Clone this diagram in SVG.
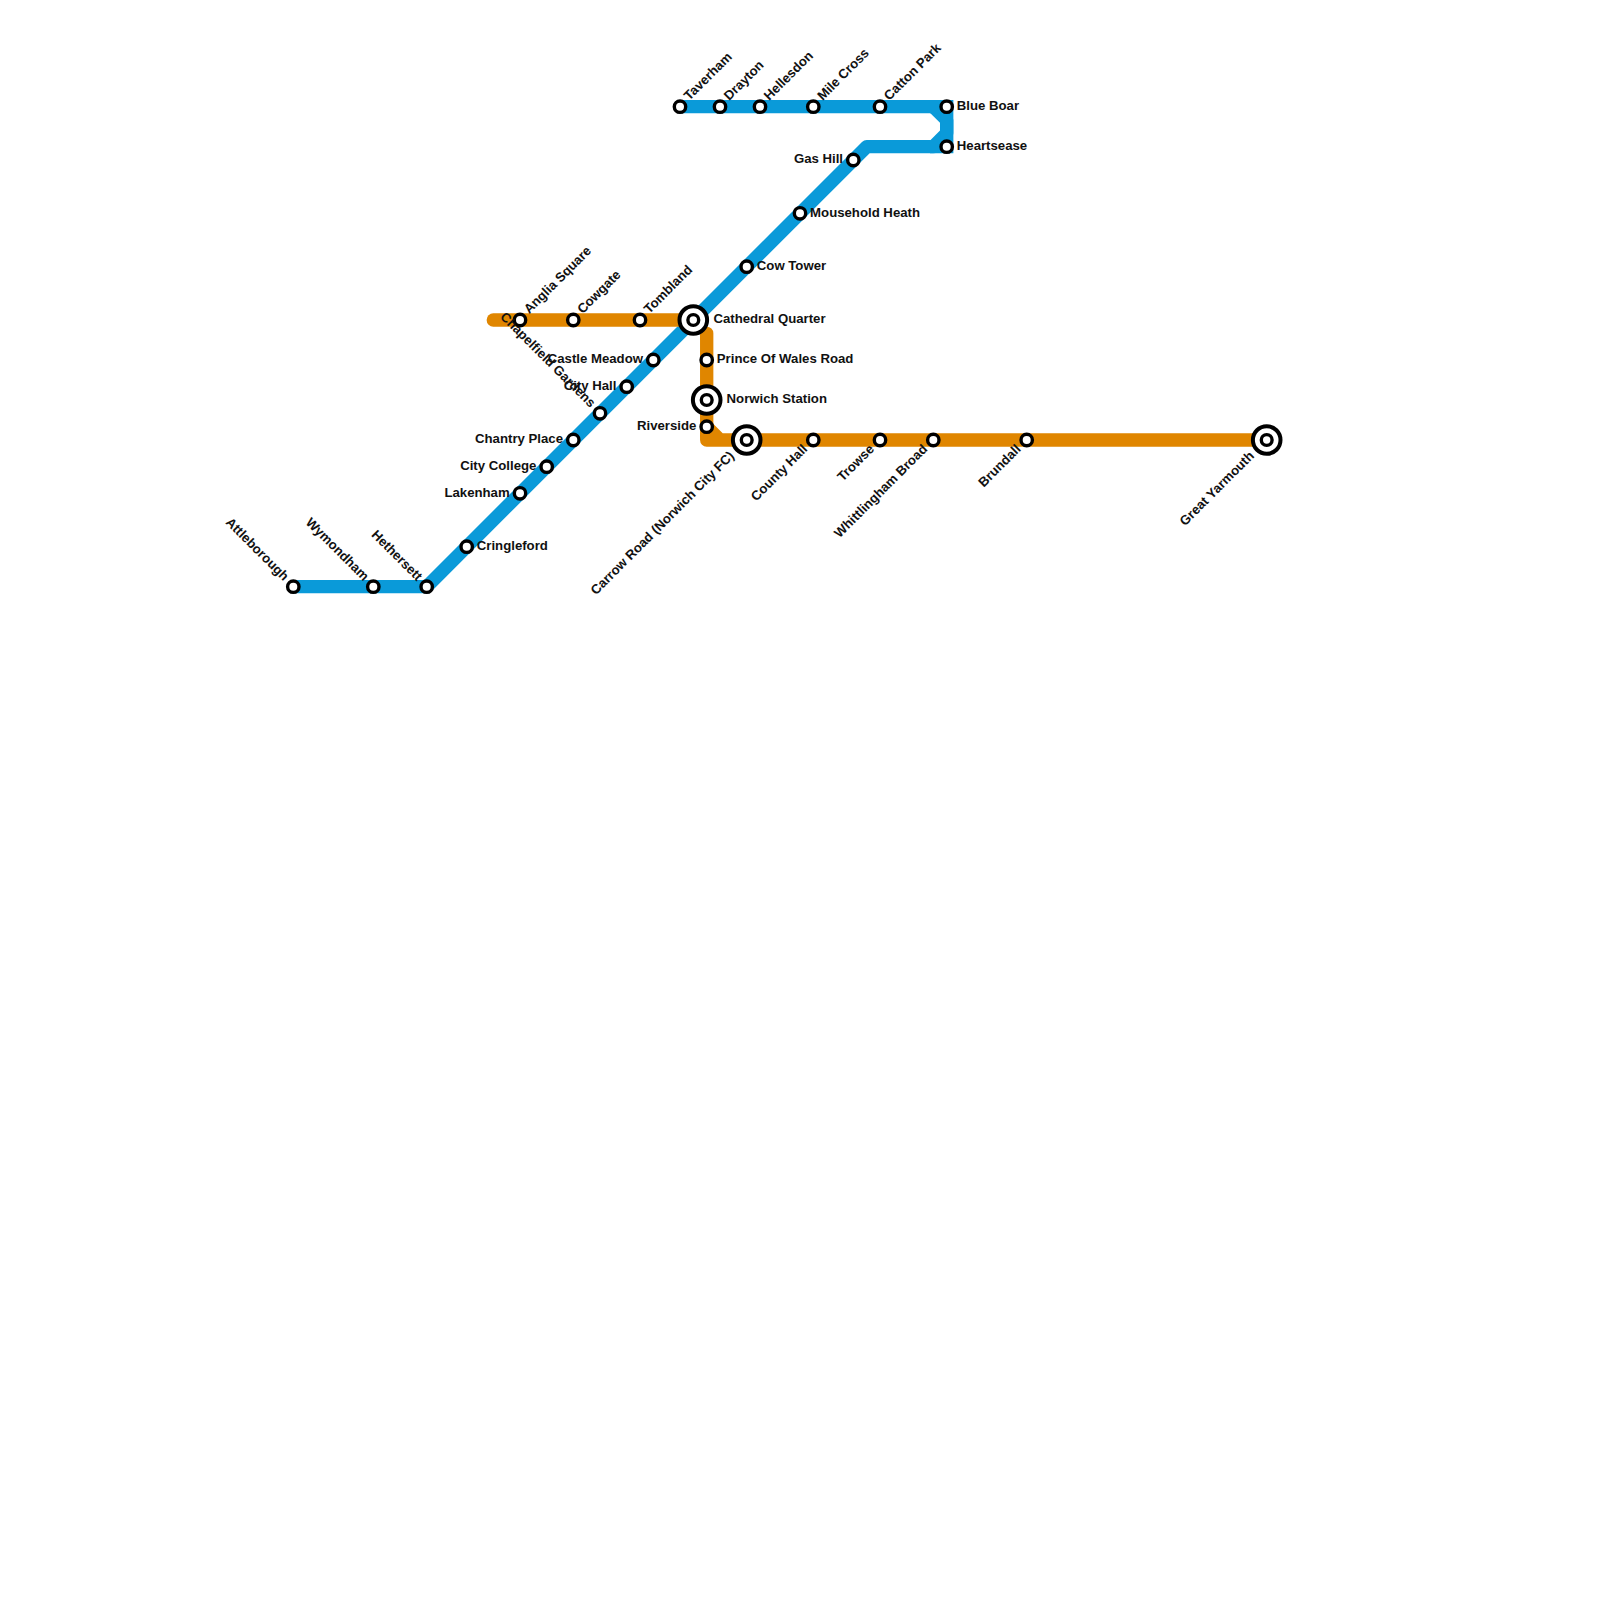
<svg xmlns="http://www.w3.org/2000/svg" width="1600" height="1600" viewBox="0 0 1600 1600">
<style>
.line{fill:none;stroke-width:13.33;stroke-linecap:round;stroke-linejoin:round}
.blue{stroke:#0a9ad9}
.orange{stroke:#e08600}
.st{fill:#fff;stroke:#000;stroke-width:3.4}
.ring{stroke-width:4}
text{font-family:"Liberation Sans",Arial,sans-serif;font-size:13.2px;font-weight:700;fill:#111}
.e{text-anchor:end}
</style>
<rect width="1600" height="1600" fill="#fff"/>
<g id="connectors">
<path class="line blue" d="M293.3 586.7H426.7L866.7 146.7H933.3L946.7 133.3V120L933.3 106.7H680"/>
<path class="line blue" style="stroke-linejoin:miter;stroke-linecap:butt" d="M930 106.7H946.7V146.7H930"/>
<path class="line orange" d="M493.3 320H693.3"/>
<path class="line orange" style="stroke-linecap:butt" d="M700 333.3H706.7V426.7"/>
<path class="line orange" d="M720 440L706.7 426.7V440H1266.7"/>
</g>
<g id="n-taverham"><circle class="st" cx="680" cy="106.7" r="5.7"/><text transform="translate(686.5 98.2) rotate(-45)" y="4">Taverham</text></g>
<g id="n-drayton"><circle class="st" cx="720" cy="106.7" r="5.7"/><text transform="translate(726.5 98.2) rotate(-45)" y="4">Drayton</text></g>
<g id="n-hellesdon"><circle class="st" cx="760" cy="106.7" r="5.7"/><text transform="translate(766.5 98.2) rotate(-45)" y="4">Hellesdon</text></g>
<g id="n-mile-cross"><circle class="st" cx="813.3" cy="106.7" r="5.7"/><text transform="translate(819.8 98.2) rotate(-45)" y="4">Mile Cross</text></g>
<g id="n-catton-park"><circle class="st" cx="880" cy="106.7" r="5.7"/><text transform="translate(886.5 98.2) rotate(-45)" y="4">Catton Park</text></g>
<g id="n-blue-boar"><circle class="st" cx="946.7" cy="106.7" r="5.7"/><text x="956.8" y="110">Blue Boar</text></g>
<g id="n-heartsease"><circle class="st" cx="946.7" cy="146.7" r="5.7"/><text x="956.8" y="150">Heartsease</text></g>
<g id="n-gas-hill"><circle class="st" cx="853.3" cy="160" r="5.7"/><text class="e" x="843" y="163.3">Gas Hill</text></g>
<g id="n-mousehold-heath"><circle class="st" cx="800" cy="213.3" r="5.7"/><text x="810.1" y="216.6">Mousehold Heath</text></g>
<g id="n-cow-tower"><circle class="st" cx="746.7" cy="266.7" r="5.7"/><text x="756.8" y="270">Cow Tower</text></g>
<g id="n-cathedral-quarter"><circle class="st ring" cx="693.3" cy="320" r="13.8"/><circle class="st" cx="693.3" cy="320" r="5.4"/><text x="713.4" y="323.3">Cathedral Quarter</text></g>
<g id="n-anglia-square"><circle class="st" cx="520" cy="320" r="5.7"/><text transform="translate(526.5 311.5) rotate(-45)" y="4">Anglia Square</text></g>
<g id="n-cowgate"><circle class="st" cx="573.3" cy="320" r="5.7"/><text transform="translate(579.8 311.5) rotate(-45)" y="4">Cowgate</text></g>
<g id="n-tombland"><circle class="st" cx="640" cy="320" r="5.7"/><text transform="translate(646.5 311.5) rotate(-45)" y="4">Tombland</text></g>
<g id="n-castle-meadow"><circle class="st" cx="653.3" cy="360" r="5.7"/><text class="e" x="643" y="363.3">Castle Meadow</text></g>
<g id="n-city-hall"><circle class="st" cx="626.7" cy="386.7" r="5.7"/><text class="e" x="616.4" y="390">City Hall</text></g>
<g id="n-chapelfield-gardens"><circle class="st" cx="600" cy="413.3" r="5.7"/><text class="e" transform="translate(593 405.3) rotate(45)" y="4">Chapelfield Gardens</text></g>
<g id="n-chantry-place"><circle class="st" cx="573.3" cy="440" r="5.7"/><text class="e" x="563" y="443.3">Chantry Place</text></g>
<g id="n-city-college"><circle class="st" cx="546.7" cy="466.7" r="5.7"/><text class="e" x="536.4" y="470">City College</text></g>
<g id="n-lakenham"><circle class="st" cx="520" cy="493.3" r="5.7"/><text class="e" x="509.7" y="496.6">Lakenham</text></g>
<g id="n-cringleford"><circle class="st" cx="466.7" cy="546.7" r="5.7"/><text x="476.8" y="550">Cringleford</text></g>
<g id="n-hethersett"><circle class="st" cx="426.7" cy="586.7" r="5.7"/><text class="e" transform="translate(419.7 578.7) rotate(45)" y="4">Hethersett</text></g>
<g id="n-wymondham"><circle class="st" cx="373.3" cy="586.7" r="5.7"/><text class="e" transform="translate(366.3 578.7) rotate(45)" y="4">Wymondham</text></g>
<g id="n-attleborough"><circle class="st" cx="293.3" cy="586.7" r="5.7"/><text class="e" transform="translate(286.3 578.7) rotate(45)" y="4">Attleborough</text></g>
<g id="n-prince-of-wales-road"><circle class="st" cx="706.7" cy="360" r="5.7"/><text x="716.8" y="363.3">Prince Of Wales Road</text></g>
<g id="n-norwich-station"><circle class="st ring" cx="706.7" cy="400" r="13.8"/><circle class="st" cx="706.7" cy="400" r="5.4"/><text x="726.6" y="403.3">Norwich Station</text></g>
<g id="n-riverside"><circle class="st" cx="706.7" cy="426.7" r="5.7"/><text class="e" x="696.4" y="430">Riverside</text></g>
<g id="n-carrow-road"><circle class="st ring" cx="746.7" cy="440" r="13.8"/><circle class="st" cx="746.7" cy="440" r="5.4"/><text class="e" transform="translate(732 453.8) rotate(-45)" y="4">Carrow Road (Norwich City FC)</text></g>
<g id="n-county-hall"><circle class="st" cx="813.3" cy="440" r="5.7"/><text class="e" transform="translate(805.3 447) rotate(-45)" y="4">County Hall</text></g>
<g id="n-trowse"><circle class="st" cx="880" cy="440" r="5.7"/><text class="e" transform="translate(872 447) rotate(-45)" y="4">Trowse</text></g>
<g id="n-whittlingham-broad"><circle class="st" cx="933.3" cy="440" r="5.7"/><text class="e" transform="translate(925.3 447) rotate(-45)" y="4">Whittlingham Broad</text></g>
<g id="n-brundall"><circle class="st" cx="1026.7" cy="440" r="5.7"/><text class="e" transform="translate(1018.7 447) rotate(-45)" y="4">Brundall</text></g>
<g id="n-great-yarmouth"><circle class="st ring" cx="1266.7" cy="440" r="13.8"/><circle class="st" cx="1266.7" cy="440" r="5.4"/><text class="e" transform="translate(1252 453.8) rotate(-45)" y="4">Great Yarmouth</text></g>
</svg>
